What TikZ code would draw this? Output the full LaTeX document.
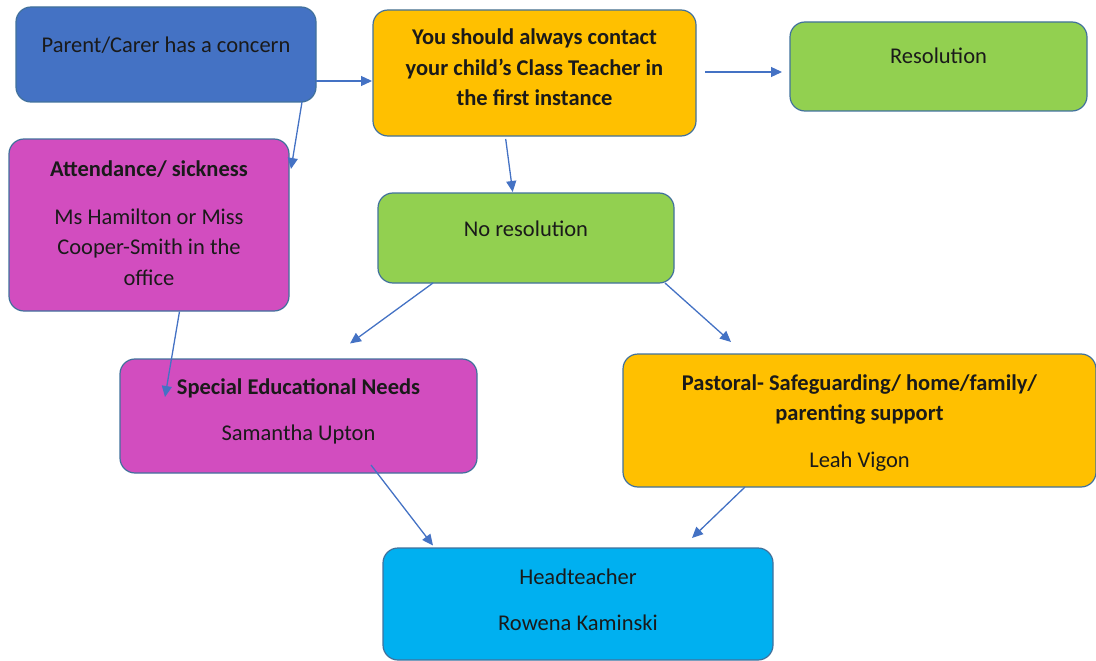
\documentclass[tikz,border=0pt]{standalone}
\usepackage{fontspec}
\setmainfont{Carlito}
\usetikzlibrary{arrows.meta}
\definecolor{cblue}{HTML}{4472C4}
\definecolor{cyellow}{HTML}{FFC000}
\definecolor{cgreen}{HTML}{92D050}
\definecolor{cmag}{HTML}{D24DBF}
\definecolor{ccyan}{HTML}{00B0F0}
\definecolor{cedge}{HTML}{41719C}
\definecolor{ctext}{HTML}{1A1A1A}
\begin{document}
\begin{tikzpicture}[x=1pt,y=-1pt,
  box/.style={draw=cedge, line width=1.2pt, rounded corners=15pt, inner sep=0pt},
  txt/.style={anchor=base, inner sep=0pt, text=ctext, font=\fontsize{22.5}{30.5}\selectfont},
  btxt/.style={txt, font=\fontsize{22.5}{30.5}\selectfont\bfseries},
  arr/.style={draw=cblue, line width=1.3pt, -{Triangle[length=11pt,width=10pt]}}]
\useasboundingbox (0,0) rectangle (1096,661);
% boxes
\node[box, fill=cblue, minimum width=300pt, minimum height=95pt] (parent) at (166,54.5) {};
\node[box, fill=cyellow, minimum width=323pt, minimum height=126pt] (teacher) at (534.5,73) {};
\node[box, fill=cgreen, minimum width=297pt, minimum height=89pt] (res) at (938.5,66.5) {};
\node[box, fill=cmag, minimum width=280pt, minimum height=172pt] (attend) at (149,225) {};
\node[box, fill=cgreen, minimum width=296pt, minimum height=90pt] (nores) at (526,238) {};
\node[box, fill=cmag, minimum width=357pt, minimum height=114pt] (sen) at (298.5,416) {};
\node[box, fill=cyellow, minimum width=473pt, minimum height=133pt] (past) at (859.5,420.5) {};
\node[box, fill=ccyan, minimum width=390pt, minimum height=112pt] (head) at (578,604) {};
% texts
\node[txt] (parentT) at (166,53) {Parent/Carer has a concern};
\node[btxt] (teacherT1) at (534.5,45) {You should always contact};
\node[btxt] (teacherT2) at (534.5,76) {your child’s Class Teacher in};
\node[btxt] (teacherT3) at (534.5,106) {the first instance};
\node[txt] (resT) at (938.5,63.3) {Resolution};
\node[btxt] (attendT1) at (149,176.7) {Attendance/ sickness};
\node[txt] (attendT2) at (149,224) {Ms Hamilton or Miss};
\node[txt] (attendT3) at (149,254.5) {Cooper-Smith in the};
\node[txt] (attendT4) at (149,285) {office};
\node[txt] (noresT) at (526,236.7) {No resolution};
\node[btxt] (senT1) at (298.5,394) {Special Educational Needs};
\node[txt] (senT2) at (298.5,440.7) {Samantha Upton};
\node[btxt] (pastT1) at (859.5,390.7) {Pastoral- Safeguarding/ home/family/};
\node[btxt] (pastT2) at (859.5,420) {parenting support};
\node[txt] (pastT3) at (859.5,467.3) {Leah Vigon};
\node[txt] (headT1) at (578,584) {Headteacher};
\node[txt] (headT2) at (578,630.7) {Rowena Kaminski};
% connector ends
\coordinate (a1s) at (316,81);   \coordinate (a1e) at (372,81);
\coordinate (a2s) at (302,102);  \coordinate (a2e) at (291,169);
\coordinate (a3s) at (705,72);   \coordinate (a3e) at (782,72);
\coordinate (a4s) at (505.7,139);\coordinate (a4e) at (512.7,192);
\coordinate (a5s) at (433,283);  \coordinate (a5e) at (350,343.5);
\coordinate (a6s) at (665,283);  \coordinate (a6e) at (731,342);
\coordinate (a7s) at (179.5,311.5); \coordinate (a7e) at (165,397);
\coordinate (a8s) at (371,465);  \coordinate (a8e) at (433,545.5);
\coordinate (a9s) at (745,487);  \coordinate (a9e) at (692,538);
\draw[arr] (a1s) -- (a1e);
\draw[arr] (a2s) -- (a2e);
\draw[arr] (a3s) -- (a3e);
\draw[arr] (a4s) -- (a4e);
\draw[arr] (a5s) -- (a5e);
\draw[arr] (a6s) -- (a6e);
\draw[arr] (a7s) -- (a7e);
\draw[arr] (a8s) -- (a8e);
\draw[arr] (a9s) -- (a9e);
\end{tikzpicture}
\end{document}
